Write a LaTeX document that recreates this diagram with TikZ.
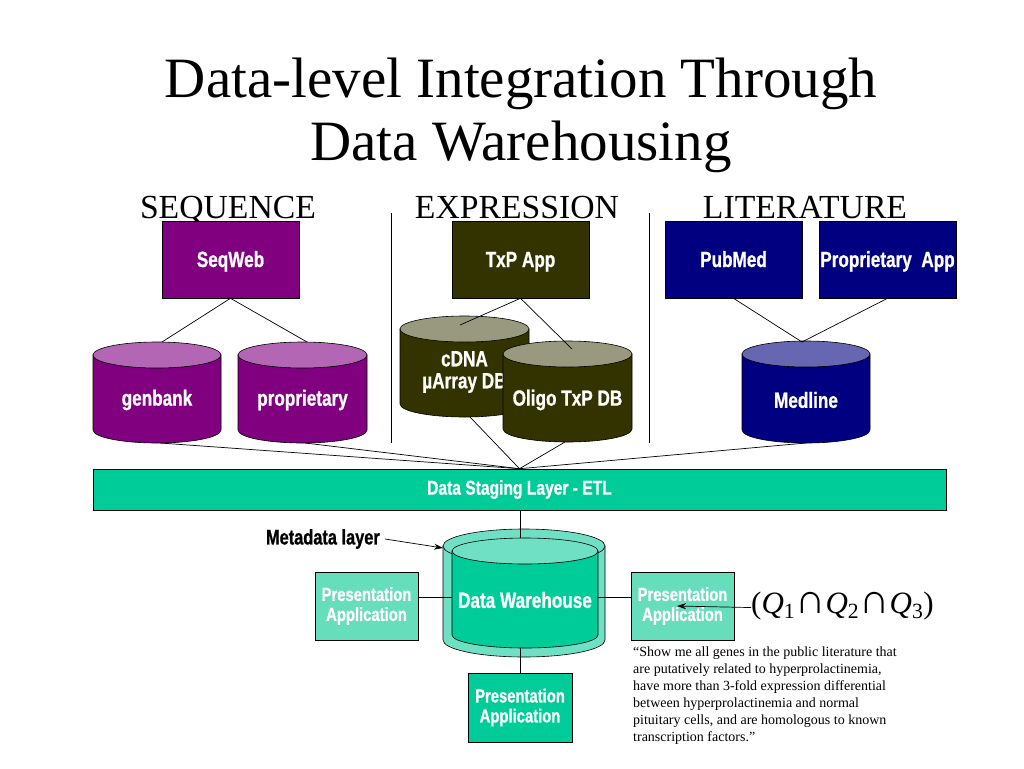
\documentclass[tikz,border=0pt]{standalone}
\usepackage{fontspec}
\setmainfont{Liberation Serif}
\newfontfamily\cond[FakeStretch=0.78, BoldFeatures={FakeBold=0.8}]{Liberation Sans}
\usetikzlibrary{arrows.meta}
\definecolor{seqpurple}{HTML}{800080}
\definecolor{seqtop}{HTML}{B366B3}
\definecolor{expolive}{HTML}{333300}
\definecolor{exptop}{HTML}{999980}
\definecolor{litnavy}{HTML}{000080}
\definecolor{littop}{HTML}{6666B3}
\definecolor{teal}{HTML}{00CC99}
\definecolor{lteal}{HTML}{66DDBB}
\definecolor{lteal2}{HTML}{70E0C4}
\newcommand\dbcyl[9]{%
  \path[fill=#7, draw=black, line width=0.6pt] (#2-#5,#3) -- (#2-#5,#4)
     arc[start angle=180, end angle=360, x radius=#5pt, y radius=#6pt] -- (#2+#5,#3) -- cycle;
  \path[fill=#8, draw=black, line width=0.6pt] (#2,#3) ellipse[x radius=#5pt, y radius=#6pt];
  \coordinate (#1-top) at (#2,#3);
  \coordinate (#1-bot) at (#2,#4+#6);
  \node[cyltext] (#1) at (#2,400) {#9};
}
\newcommand\bigcapsym{{\fontsize{42}{42}\selectfont ∩}}
\begin{document}
\begin{tikzpicture}[x=1pt,y=-1pt,
  appbox/.style={draw=black, line width=0.6pt, minimum width=137pt, minimum height=77pt,
     inner sep=0pt, text=white, text height=15pt, text depth=0pt, font=\cond\bfseries\fontsize{22}{24}\selectfont},
  presbox/.style={draw=black, line width=0.6pt, minimum width=103pt, minimum height=68pt,
     inner sep=0pt, text=white, align=center, font=\cond\bfseries\fontsize{19}{20}\selectfont},
  cyltext/.style={text=white, align=center, inner sep=0pt, font=\cond\bfseries\fontsize{22}{22}\selectfont},
  link/.style={draw=black, line width=0.7pt},
  header/.style={font=\fontsize{33.7}{36}\selectfont, anchor=base, inner sep=0pt},
  titletext/.style={font=\fontsize{57}{62}\selectfont, anchor=base, inner sep=0pt}
]
\useasboundingbox[fill=white] (0,0) rectangle (1024,768);

% title
\node[titletext] (t1) at (521,97) {Data-level Integration Through};
\node[titletext] (t2) at (521,160) {Data Warehousing};

% headers
\node[header] (hseq) at (228,218) {SEQUENCE};
\node[header] (hexp) at (517,218) {EXPRESSION};
\node[header] (hlit) at (805,218) {LITERATURE};

% separators
\coordinate (s1a) at (391,213); \coordinate (s1b) at (391,443);
\coordinate (s2a) at (649,213); \coordinate (s2b) at (649,443);
\draw[link] (s1a) -- (s1b);
\draw[link] (s2a) -- (s2b);

% app boxes
\node[appbox, fill=seqpurple] (seqweb) at (230.5,259.5) {SeqWeb};
\node[appbox, fill=expolive] (txp) at (520.5,259.5) {TxP App};
\node[appbox, fill=litnavy] (pubmed) at (733.5,259.5) {PubMed};
\node[appbox, fill=litnavy] (propapp) at (887.5,259.5) {Proprietary\ \ App};

% staging layer
\node[draw=black, line width=0.6pt, fill=teal, minimum width=853pt, minimum height=41pt,
      inner sep=0pt, text=white, font=\cond\bfseries\fontsize{20}{22}\selectfont]
      (stg) at (519.5,489.5) {Data Staging Layer - ETL};

% connectors from DB bottoms to staging (drawn beneath cylinders)
\coordinate (gen-b) at (160,443);
\coordinate (prop-b) at (305,443);
\coordinate (cdna-b) at (470,417);
\coordinate (oligo-b) at (565,442);
\coordinate (med-b) at (806,443);
\draw[link] (gen-b) -- (stg.north);
\draw[link] (prop-b) -- (stg.north);
\draw[link] (cdna-b) -- (stg.north);
\draw[link] (oligo-b) -- (stg.north);
\draw[link] (med-b) -- (stg.north);

% cylinders
\dbcyl{genbank}{157}{355}{430}{64}{13}{seqpurple}{seqtop}{genbank}
\dbcyl{propdb}{302.5}{355}{430}{64.5}{13}{seqpurple}{seqtop}{proprietary}
\path[fill=expolive, draw=black, line width=0.6pt] (400,329) -- (400,404)
   arc[start angle=180, end angle=360, x radius=64.5pt, y radius=13pt] -- (529,329) -- cycle;
\path[fill=exptop, draw=black, line width=0.6pt] (464.5,329) ellipse[x radius=64.5pt, y radius=13pt];
\coordinate (cdna-top) at (460,325);
\node[cyltext] (cdna) at (464.5,372) {cDNA\\µArray DB};
\dbcyl{oligo}{567.5}{354}{429}{64.5}{13}{expolive}{exptop}{Oligo TxP DB}
\dbcyl{medline}{806}{354}{430}{64}{13}{litnavy}{littop}{Medline}

% connectors from apps to DBs
\coordinate (gen-t) at (162,342);
\coordinate (prop-t) at (307,342);
\coordinate (oligo-t) at (572,349);
\coordinate (med-t) at (802,342);
\draw[link] (seqweb.south) -- (gen-t);
\draw[link] (seqweb.south) -- (prop-t);
\draw[link] (txp.south) -- (cdna-top);
\draw[link] (txp.south) -- (oligo-t);
\draw[link] (pubmed.south) -- (med-t);
\draw[link] (propapp.south) -- (med-t);

% data warehouse (metadata layer + inner)
\path[fill=lteal2, draw=black, line width=0.6pt] (443,546) -- (443,640)
   arc[start angle=180, end angle=360, x radius=81pt, y radius=17pt] -- (605,546) -- cycle;
\path[fill=lteal2, draw=black, line width=0.6pt] (524,546) ellipse[x radius=81pt, y radius=17pt];
\path[fill=teal, draw=black, line width=0.6pt] (452,551) -- (452,635)
   arc[start angle=180, end angle=360, x radius=73pt, y radius=13pt] -- (598,551) -- cycle;
\path[fill=lteal2, draw=black, line width=0.6pt] (525,551) ellipse[x radius=73pt, y radius=13pt];
\node[cyltext] (dw) at (525,600) {Data Warehouse};
\coordinate (dw-top) at (520,538);
\coordinate (dw-bot) at (520,648);
\coordinate (dw-l) at (452,597);
\coordinate (dw-r) at (598,597);
\coordinate (meta-pt) at (443,548);
\draw[link] (stg.south -| dw-top) -- (dw-top);

% metadata label
\node[anchor=east, inner sep=0pt, font=\cond\bfseries\fontsize{21}{22}\selectfont]
   (meta) at (380,539) {Metadata layer};
\draw[link, -{Stealth[length=9pt,width=6pt]}] ([xshift=5pt]meta.east) -- (meta-pt);

% presentation apps
\node[presbox, fill=lteal] (lpres) at (366.5,606) {Presentation\\Application};
\node[presbox, fill=lteal] (rpres) at (682.5,606) {Presentation\\Application};
\node[presbox, fill=teal, minimum width=104pt, minimum height=69pt] (bpres) at (520,707.5) {Presentation\\Application};
\draw[link] ([yshift=9pt]lpres.east) -- (dw-l);
\draw[link] (dw-r) -- ([yshift=9pt]rpres.west);
\draw[link] (dw-bot) -- (bpres.north);

% query
\node[anchor=base west, inner sep=0pt, font=\fontsize{31}{34}\selectfont] (q) at (751,613)
   {(\textit{Q}\textsubscript{1}\bigcapsym\textit{Q}\textsubscript{2}\bigcapsym\textit{Q}\textsubscript{3})};
\coordinate (qtip) at (677,606);
\draw[link, -{Stealth[length=9pt,width=6pt]}] ([yshift=-2pt]q.west) -- (qtip);

\node[anchor=north west, inner sep=0pt, align=left, font=\fontsize{14}{17}\selectfont] (quote) at (633,647)
  {“Show me all genes in the public literature that\\
   are putatively related to hyperprolactinemia,\\
   have more than 3-fold expression differential\\
   between hyperprolactinemia and normal\\
   pituitary cells, and are homologous to known\\
   transcription factors.”};
\end{tikzpicture}
\end{document}
